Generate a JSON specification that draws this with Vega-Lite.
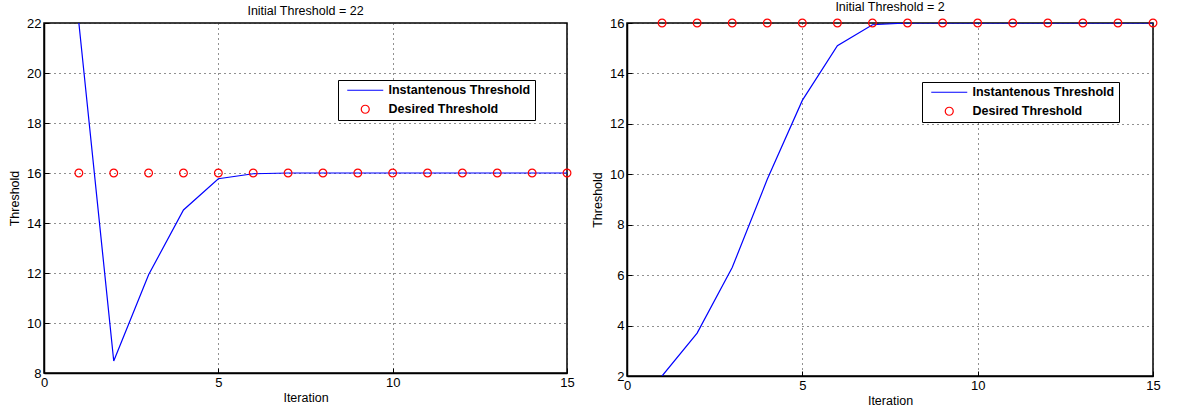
{
  "$schema": "https://vega.github.io/schema/vega-lite/v6.json",
  "padding": {"left": 7, "top": 0, "right": 5, "bottom": 3},
  "spacing": 15,
  "config": {
    "font": "Liberation Sans",
    "view": {"stroke": "black", "strokeWidth": 1.5},
    "axis": {
      "labelFont": "Liberation Sans", "labelFontSize": 13, "labelColor": "black",
      "titleFont": "Liberation Sans", "titleFontSize": 12.5, "titleFontWeight": "normal", "titleColor": "black",
      "domainColor": "black", "domainWidth": 1.5,
      "gridColor": "#222", "gridDash": [1, 4], "gridWidth": 1,
      "ticks": true, "tickSize": -5, "tickColor": "black", "tickWidth": 1,
      "labelPadding": 8, "labelFlush": false, "labelOverlap": false
    },
    "axisX": {"titlePadding": 2},
    "axisY": {"titlePadding": 5},
    "title": {"font": "Liberation Sans", "fontSize": 12.5, "fontWeight": "normal", "color": "black"},
    "legend": {
      "orient": "none", "title": null,
      "strokeColor": "black", "fillColor": "white", "padding": 4,
      "labelFont": "Liberation Sans", "labelFontSize": 12.5, "labelFontWeight": "bold", "labelColor": "black",
      "symbolSize": 100, "symbolOffset": 17, "labelOffset": 17, "rowPadding": 5,
      "symbolStrokeWidth": 1.2
    }
  },
  "datasets": {
    "rows": [
      {"panel": "A", "series": "Instantenous Threshold", "iteration": 1, "value": 22},
      {"panel": "A", "series": "Instantenous Threshold", "iteration": 2, "value": 8.48},
      {"panel": "A", "series": "Instantenous Threshold", "iteration": 3, "value": 11.93},
      {"panel": "A", "series": "Instantenous Threshold", "iteration": 4, "value": 14.52},
      {"panel": "A", "series": "Instantenous Threshold", "iteration": 5, "value": 15.77},
      {"panel": "A", "series": "Instantenous Threshold", "iteration": 6, "value": 15.97},
      {"panel": "A", "series": "Instantenous Threshold", "iteration": 7, "value": 16},
      {"panel": "A", "series": "Instantenous Threshold", "iteration": 8, "value": 16},
      {"panel": "A", "series": "Instantenous Threshold", "iteration": 9, "value": 16},
      {"panel": "A", "series": "Instantenous Threshold", "iteration": 10, "value": 16},
      {"panel": "A", "series": "Instantenous Threshold", "iteration": 11, "value": 16},
      {"panel": "A", "series": "Instantenous Threshold", "iteration": 12, "value": 16},
      {"panel": "A", "series": "Instantenous Threshold", "iteration": 13, "value": 16},
      {"panel": "A", "series": "Instantenous Threshold", "iteration": 14, "value": 16},
      {"panel": "A", "series": "Instantenous Threshold", "iteration": 15, "value": 16},
      {"panel": "A", "series": "Desired Threshold", "iteration": 1, "value": 16},
      {"panel": "A", "series": "Desired Threshold", "iteration": 2, "value": 16},
      {"panel": "A", "series": "Desired Threshold", "iteration": 3, "value": 16},
      {"panel": "A", "series": "Desired Threshold", "iteration": 4, "value": 16},
      {"panel": "A", "series": "Desired Threshold", "iteration": 5, "value": 16},
      {"panel": "A", "series": "Desired Threshold", "iteration": 6, "value": 16},
      {"panel": "A", "series": "Desired Threshold", "iteration": 7, "value": 16},
      {"panel": "A", "series": "Desired Threshold", "iteration": 8, "value": 16},
      {"panel": "A", "series": "Desired Threshold", "iteration": 9, "value": 16},
      {"panel": "A", "series": "Desired Threshold", "iteration": 10, "value": 16},
      {"panel": "A", "series": "Desired Threshold", "iteration": 11, "value": 16},
      {"panel": "A", "series": "Desired Threshold", "iteration": 12, "value": 16},
      {"panel": "A", "series": "Desired Threshold", "iteration": 13, "value": 16},
      {"panel": "A", "series": "Desired Threshold", "iteration": 14, "value": 16},
      {"panel": "A", "series": "Desired Threshold", "iteration": 15, "value": 16},
      {"panel": "B", "series": "Instantenous Threshold", "iteration": 1, "value": 2},
      {"panel": "B", "series": "Instantenous Threshold", "iteration": 2, "value": 3.7},
      {"panel": "B", "series": "Instantenous Threshold", "iteration": 3, "value": 6.3},
      {"panel": "B", "series": "Instantenous Threshold", "iteration": 4, "value": 9.8},
      {"panel": "B", "series": "Instantenous Threshold", "iteration": 5, "value": 12.93},
      {"panel": "B", "series": "Instantenous Threshold", "iteration": 6, "value": 15.1},
      {"panel": "B", "series": "Instantenous Threshold", "iteration": 7, "value": 15.93},
      {"panel": "B", "series": "Instantenous Threshold", "iteration": 8, "value": 16},
      {"panel": "B", "series": "Instantenous Threshold", "iteration": 9, "value": 16},
      {"panel": "B", "series": "Instantenous Threshold", "iteration": 10, "value": 16},
      {"panel": "B", "series": "Instantenous Threshold", "iteration": 11, "value": 16},
      {"panel": "B", "series": "Instantenous Threshold", "iteration": 12, "value": 16},
      {"panel": "B", "series": "Instantenous Threshold", "iteration": 13, "value": 16},
      {"panel": "B", "series": "Instantenous Threshold", "iteration": 14, "value": 16},
      {"panel": "B", "series": "Instantenous Threshold", "iteration": 15, "value": 16},
      {"panel": "B", "series": "Desired Threshold", "iteration": 1, "value": 16},
      {"panel": "B", "series": "Desired Threshold", "iteration": 2, "value": 16},
      {"panel": "B", "series": "Desired Threshold", "iteration": 3, "value": 16},
      {"panel": "B", "series": "Desired Threshold", "iteration": 4, "value": 16},
      {"panel": "B", "series": "Desired Threshold", "iteration": 5, "value": 16},
      {"panel": "B", "series": "Desired Threshold", "iteration": 6, "value": 16},
      {"panel": "B", "series": "Desired Threshold", "iteration": 7, "value": 16},
      {"panel": "B", "series": "Desired Threshold", "iteration": 8, "value": 16},
      {"panel": "B", "series": "Desired Threshold", "iteration": 9, "value": 16},
      {"panel": "B", "series": "Desired Threshold", "iteration": 10, "value": 16},
      {"panel": "B", "series": "Desired Threshold", "iteration": 11, "value": 16},
      {"panel": "B", "series": "Desired Threshold", "iteration": 12, "value": 16},
      {"panel": "B", "series": "Desired Threshold", "iteration": 13, "value": 16},
      {"panel": "B", "series": "Desired Threshold", "iteration": 14, "value": 16},
      {"panel": "B", "series": "Desired Threshold", "iteration": 15, "value": 16}
    ]
  },
  "resolve": {"legend": {"color": "independent"}, "scale": {"color": "independent"}},
  "hconcat": [
    {
      "title": {"text": "Initial Threshold = 22", "offset": 0},
      "width": 523, "height": 350,
      "data": {"name": "rows"},
      "transform": [{"filter": "datum.panel === 'A'"}],
      "encoding": {
        "x": {"field": "iteration", "type": "quantitative", "title": "Iteration",
              "scale": {"domain": [0, 15], "nice": false, "zero": false},
              "axis": {"values": [0, 5, 10, 15]}},
        "y": {"field": "value", "type": "quantitative", "title": "Threshold",
              "scale": {"domain": [8, 22], "nice": false, "zero": false},
              "axis": {"values": [8, 10, 12, 14, 16, 18, 20, 22]}},
        "color": {"field": "series", "type": "nominal",
                  "scale": {"domain": ["Instantenous Threshold", "Desired Threshold"], "range": ["#0000ff", "#ff0000"]},
                  "legend": {"legendX": 294, "legendY": 57,
                    "encode": {"symbols": {"update": {
                      "shape": {"signal": "datum.value === 'Desired Threshold' ? 'circle' : 'M-3.6,0H3.6'"},
                      "size": {"signal": "datum.value === 'Desired Threshold' ? 64 : 100"},
                      "fill": {"value": "transparent"},
                      "stroke": {"signal": "datum.value === 'Desired Threshold' ? '#ff0000' : '#0000ff'"},
                      "strokeWidth": {"value": 1.2},
                      "opacity": {"value": 1}
                    }}}}}
      },
      "layer": [
        {"transform": [{"filter": "datum.series === 'Instantenous Threshold'"}],
         "mark": {"type": "line", "strokeWidth": 1.2, "clip": true}},
        {"transform": [{"filter": "datum.series === 'Desired Threshold'"}],
         "mark": {"type": "point", "shape": "circle", "filled": false, "size": 60, "strokeWidth": 1.2, "opacity": 1}}
      ]
    },
    {
      "title": {"text": "Initial Threshold = 2", "offset": 3},
      "width": 526, "height": 353,
      "data": {"name": "rows"},
      "transform": [{"filter": "datum.panel === 'B'"}],
      "encoding": {
        "x": {"field": "iteration", "type": "quantitative", "title": "Iteration",
              "scale": {"domain": [0, 15], "nice": false, "zero": false},
              "axis": {"values": [0, 5, 10, 15]}},
        "y": {"field": "value", "type": "quantitative", "title": "Threshold",
              "scale": {"domain": [2, 16], "nice": false, "zero": false},
              "axis": {"values": [2, 4, 6, 8, 10, 12, 14, 16]}},
        "color": {"field": "series", "type": "nominal",
                  "scale": {"domain": ["Instantenous Threshold", "Desired Threshold"], "range": ["#0000ff", "#ff0000"]},
                  "legend": {"legendX": 295, "legendY": 59,
                    "encode": {"symbols": {"update": {
                      "shape": {"signal": "datum.value === 'Desired Threshold' ? 'circle' : 'M-3.6,0H3.6'"},
                      "size": {"signal": "datum.value === 'Desired Threshold' ? 64 : 100"},
                      "fill": {"value": "transparent"},
                      "stroke": {"signal": "datum.value === 'Desired Threshold' ? '#ff0000' : '#0000ff'"},
                      "strokeWidth": {"value": 1.2},
                      "opacity": {"value": 1}
                    }}}}}
      },
      "layer": [
        {"transform": [{"filter": "datum.series === 'Instantenous Threshold'"}],
         "mark": {"type": "line", "strokeWidth": 1.2, "clip": true}},
        {"transform": [{"filter": "datum.series === 'Desired Threshold'"}],
         "mark": {"type": "point", "shape": "circle", "filled": false, "size": 60, "strokeWidth": 1.2, "opacity": 1}}
      ]
    }
  ]
}
